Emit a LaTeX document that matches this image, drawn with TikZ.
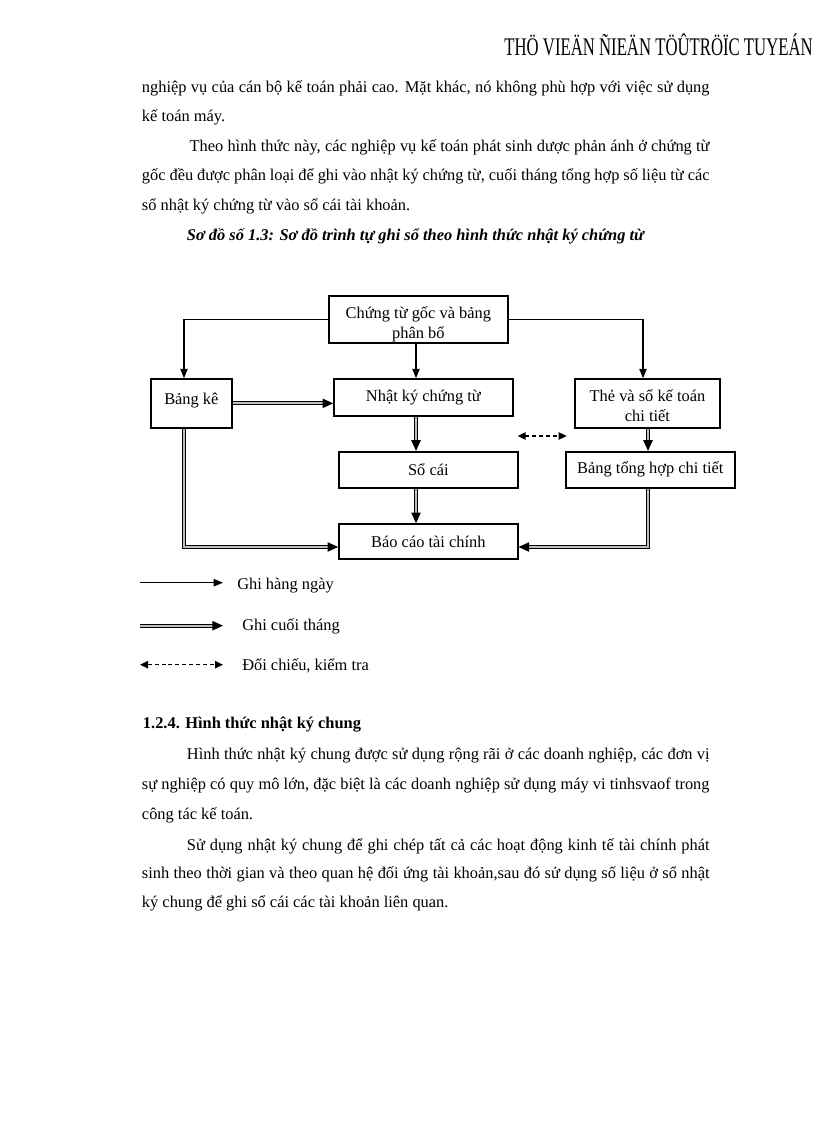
\documentclass[tikz,border=0pt]{standalone}
\usepackage{fontspec}
\setmainfont{Liberation Serif}
\usepackage{graphicx}
\usetikzlibrary{arrows.meta}

\newdimen\pxu \pxu=0.75pt
\newcommand\bodyfont{\fontsize{12.3pt}{15pt}\selectfont}
\newcommand\just[2]{\makebox[#1][s]{#2}}

\tikzset{
  box/.style={draw, line width=1.2pt, inner sep=2pt, align=center, font=\bodyfont},
  textline/.style={anchor=base west, inner sep=0pt, font=\bodyfont},
  daily/.style={line width=1pt, -{Triangle[length=7pt,width=5.5pt]}},
  monthly/.style={line width=0.9pt, double=gray!50, double distance=1.4pt,
    -{Triangle[length=8pt,width=7pt]}},
  check/.style={line width=1pt, dash pattern=on 3pt off 2.2pt,
    {Triangle[length=6pt,width=5.5pt]}-{Triangle[length=6pt,width=5.5pt]}},
}

\begin{document}
\begin{tikzpicture}[x=0.75pt, y=-0.75pt]
  \useasboundingbox (0,0) rectangle (816,1123);

  % Page header
  \node[anchor=base east, inner sep=0pt] (header) at (813,56)
    {\scalebox{0.66}[1]{\fontsize{19pt}{22pt}\selectfont THÖ VIEÄN ÑIEÄN TÖÛTRÖÏC TUYEÁN}};

  % Text above the diagram
  \node[textline] (p1a) at (141.7,92.3)
    {\just{425.7pt}{nghiệp vụ của cán bộ kế toán phải cao. Mặt khác, nó không phù hợp với việc sử dụng}};
  \node[textline] (p1b) at (141.7,121.7) {kế toán máy.};
  \node[textline] (p2a) at (189.3,151.7)
    {\just{390pt}{Theo hình thức này, các nghiệp vụ kế toán phát sinh dược phản ánh ở chứng từ}};
  \node[textline] (p2b) at (141.7,180.7)
    {\just{425.7pt}{gốc đều được phân loại để ghi vào nhật ký chứng từ, cuối tháng tổng hợp số liệu từ các}};
  \node[textline] (p2c) at (141.7,210) {sổ nhật ký chứng từ vào sổ cái tài khoản.};
  \node[textline, font=\bodyfont\bfseries\itshape] (caption) at (186.7,240)
    {Sơ đồ số 1.3: Sơ đồ trình tự ghi sổ theo hình thức nhật ký chứng từ};

  % Boxes
  \node[box, inner ysep=0pt, minimum width=178.7\pxu, minimum height=47\pxu] (chungtu) at (418.35,319.5)
    {\rule{0pt}{16pt}Chứng từ gốc và bảng\\phân bổ};
  \node[box, minimum width=81.3\pxu, minimum height=48.7\pxu] (bangke) at (191.35,403.35)
    {\rule[-7.5pt]{0pt}{7.5pt}Bảng kê};
  \node[box, minimum width=178.7\pxu, minimum height=36.7\pxu] (nkct) at (423.35,397.35)
    {Nhật ký chứng từ};
  \node[box, minimum width=145\pxu, minimum height=48.7\pxu] (the) at (647.5,403.35)
    {\rule{0pt}{12pt}Thẻ và sổ kế toán\\chi tiết};
  \node[box, minimum width=178.7\pxu, minimum height=36\pxu] (socai) at (428.35,469.7)
    {Sổ cái};
  \node[box, minimum width=169.3\pxu, minimum height=36\pxu] (bth) at (650.35,469.7)
    {Bảng tổng hợp chi tiết};
  \node[box, minimum width=178.7\pxu, minimum height=35\pxu] (bctc) at (428.35,541.5)
    {Báo cáo tài chính};

  % Rails for the connectors
  \coordinate (spine) at (416,0);
  \coordinate (ltop) at (184,0);
  \coordinate (rtop) at (643,0);
  \coordinate (lrail) at (184,547);
  \coordinate (rrail) at (648,547);
  \coordinate (chk1) at (517.7,436);
  \coordinate (chk2) at (566.7,436);

  % Daily entries
  \draw[daily] (chungtu.west) -| (bangke.north -| ltop);
  \draw[daily] (chungtu.south -| spine) -- (nkct.north -| spine);
  \draw[daily] (chungtu.east) -| (the.north -| rtop);

  % Month-end entries
  \draw[monthly] (bangke.east) -- (bangke.east -| nkct.west);
  \draw[monthly] (nkct.south -| spine) -- (socai.north -| spine);
  \draw[monthly] (socai.south -| spine) -- (bctc.north -| spine);
  \draw[monthly] (the.south -| rrail) -- (bth.north -| rrail);
  \draw[monthly] (bangke.south -| lrail) -- (lrail) -- (bctc.west |- lrail);
  \draw[monthly] (bth.south -| rrail) -- (rrail) -- (bctc.east |- rrail);

  % Cross-check
  \draw[check] (chk1) -- (chk2);

  % Legend
  \coordinate (lg1a) at (140,582.7);
  \coordinate (lg1b) at (223,582.7);
  \coordinate (lg2a) at (140,625.7);
  \coordinate (lg2b) at (223,625.7);
  \coordinate (lg3a) at (140,664.7);
  \coordinate (lg3b) at (223,664.7);
  \draw[daily] (lg1a) -- (lg1b);
  \draw[monthly] (lg2a) -- (lg2b);
  \draw[check] (lg3a) -- (lg3b);
  \node[textline] (lgday) at (237,589) {Ghi hàng ngày};
  \node[textline] (lgmonth) at (242,630.5) {Ghi cuối tháng};
  \node[textline] (lgcheck) at (242,670) {Đối chiếu, kiểm tra};

  % Text below the diagram
  \node[textline, font=\bodyfont\bfseries] (head) at (142.7,728.3)
    {1.2.4. Hình thức nhật ký chung};
  \node[textline] (p3a) at (186.7,759.3)
    {\just{392pt}{Hình thức nhật ký chung được sử dụng rộng rãi ở các doanh nghiệp, các đơn vị}};
  \node[textline] (p3b) at (141.7,789.3)
    {\just{425.7pt}{sự nghiệp có quy mô lớn, đặc biệt là các doanh nghiệp sử dụng máy vi tinhsvaof trong}};
  \node[textline] (p3c) at (141.7,819.3) {công tác kế toán.};
  \node[textline] (p4a) at (186.7,850)
    {\just{392pt}{Sử dụng nhật ký chung để ghi chép tất cả các hoạt động kinh tế tài chính phát}};
  \node[textline] (p4b) at (141.7,878.3)
    {\just{425.7pt}{sinh theo thời gian và theo quan hệ đối ứng tài khoản,sau đó sử dụng số liệu ở sổ nhật}};
  \node[textline] (p4c) at (141.7,907.3) {ký chung để ghi sổ cái các tài khoản liên quan.};
\end{tikzpicture}
\end{document}
